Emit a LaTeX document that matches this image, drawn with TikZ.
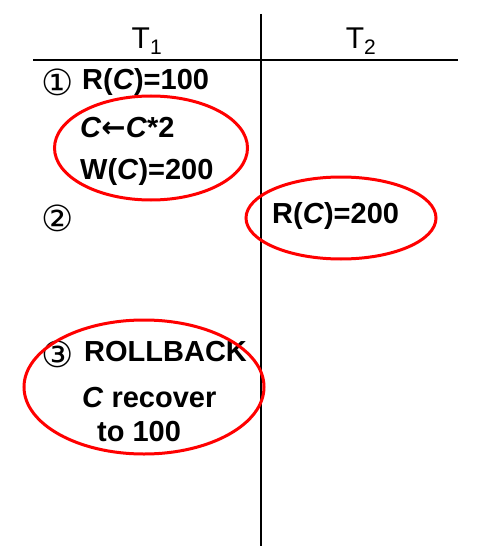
\documentclass[tikz,border=0pt]{standalone}
\usepackage{fontspec}
\setmainfont{Liberation Sans}
\newfontfamily\symfont{DejaVu Sans}
\usetikzlibrary{shapes.geometric}

\begin{document}
\begin{tikzpicture}[x=1pt,y=-1pt]
            \tikzstyle{myTxt}=[inner sep=0pt,anchor=west,font=\fontsize{29}{34}\selectfont\bfseries];
            \tikzstyle{myNum}=[inner sep=0pt,font=\symfont\fontsize{36}{40}\selectfont];
            \tikzstyle{myHead}=[inner sep=0pt,font=\fontsize{30}{34}\selectfont];
            \tikzstyle{myRing}=[ellipse,draw=red,line width=3pt,inner sep=0pt];
            \useasboundingbox (0,0) rectangle (477,548);
            % table rules
            \coordinate (top) at (261,14);
            \coordinate (bot) at (261,546);
            \coordinate (left) at (33,60);
            \coordinate (right) at (458,60);
            \draw[line width=1.6pt] (top) -- (bot);
            \draw[line width=1.6pt] (left) -- (right);
            \node[myHead] (t1) at (147,41) {T\textsubscript{1}};
            \node[myHead] (t2) at (361,41) {T\textsubscript{2}};
            % T1 column
            \node[myNum] (n1) at (58,82) {①};
            \node[myTxt] (rc1) at (82,82) {R(\textit{C})=100};
            \node[myTxt] (calc) at (80,128) {\textit{C}{\symfont ←}\textit{C}*2};
            \node[myTxt] (wc) at (80,172) {W(\textit{C})=200};
            \node[myNum] (n2) at (58,218) {②};
            \node[myNum] (n3) at (58,354) {③};
            \node[myTxt] (rb) at (84,352) {ROLLBACK};
            \node[myTxt] (rec) at (82,398) {\textit{C} recover};
            \node[myTxt] (to) at (97,432) {to 100};
            % T2 column
            \node[myTxt] (rc2) at (272,216) {R(\textit{C})=200};
            % red rings
            \node[myRing,minimum width=193pt,minimum height=104pt] (ring1) at (151,148) {};
            \node[myRing,minimum width=190pt,minimum height=82pt] (ring2) at (341,218) {};
            \node[myRing,minimum width=240pt,minimum height=134pt] (ring3) at (144,387) {};
\end{tikzpicture}
\end{document}
